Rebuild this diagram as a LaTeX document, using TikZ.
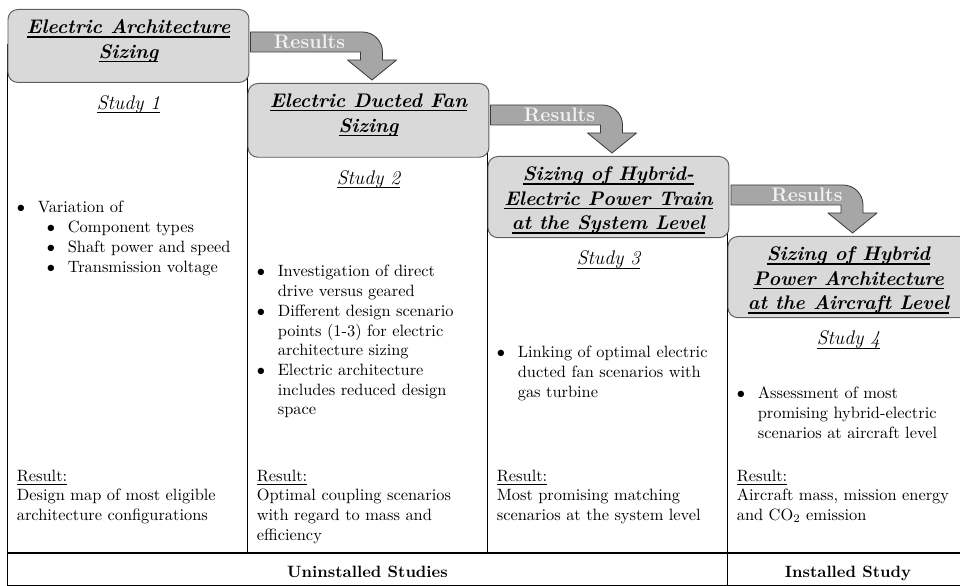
\documentclass[tikz,border=0pt]{standalone}
\usetikzlibrary{positioning}

\definecolor{boxfill}{HTML}{D9D9D9}
\definecolor{boxline}{HTML}{5F5F5F}
\definecolor{arrowfill}{HTML}{A6A6A6}
\definecolor{arrowline}{HTML}{3A3A3A}
\definecolor{restextcol}{HTML}{F2F2F2}

% bullets of fixed width, first and second level
\newcommand{\itembullet}{$\bullet$}
\newcommand{\subbullet}[1]{\hspace{5.5pt}$\bullet$\hspace{7.8pt}#1}
% underline at a fixed depth below the baseline (#1 = rule thickness)
\newcommand{\ulbar}[2]{\leavevmode\setbox0=\hbox{#2}\rlap{\rule[-2.3pt]{\wd0}{#1}}\box0}

\tikzset{
	% bent "Results" arrow, origin = top left corner of the bar
	pics/results/.style={code={
		\draw[resarrow] (0,0) -- (0,20) -- (110,20) -- (110,28) -- (97,28) -- (121.5,48) -- (146,28) -- (132,28) -- (132,20) arc[start angle=0, end angle=-90, radius=20] -- cycle;
		\node[restext] (-text) at (#1,17) {Results};
	}}
}

\begin{document}
\begin{tikzpicture}[x=0.61pt,y=-0.61pt,line join=round,
	frame/.style={draw=black,line width=0.8pt},
	titlebox/.style={draw=boxline,fill=boxfill,line width=0.6pt,rounded corners=6pt,minimum width=147pt,inner sep=0pt},
	titletext/.style={font=\large\bfseries\itshape,align=center,inner sep=0pt},
	study/.style={font=\large\itshape,inner sep=0pt},
	body/.style={inner sep=0pt,anchor=base west},
	band/.style={font=\bfseries,inner sep=0pt,anchor=base},
	resarrow/.style={draw=arrowline,fill=arrowfill,line width=0.5pt},
	restext/.style={font=\large\bfseries,text=restextcol,inner sep=0pt,anchor=base}]
	
	\useasboundingbox (0,0) rectangle (960,586);
	\clip (0,0) rectangle (960,586);
	
	% columns and bottom band
	\draw[frame] (7.5,45) rectangle (247.5,553);
	\draw[frame] (247.5,120) rectangle (487.5,553);
	\draw[frame] (487.5,196) rectangle (727.5,553);
	\draw[frame] (727.5,276) rectangle (980,553);
	\draw[frame] (7.5,553) rectangle (980,586);
	\draw[frame] (727.5,553) -- (727.5,586);
	
	\node[band] (uninst) at (367.5,577) {Uninstalled Studies};
	\node[band] (inst) at (848,577) {Installed Study};
	
	% title boxes
	\node[titlebox,minimum height=44.5pt,anchor=north west] (box1) at (7.5,9) {};
	\node[titlebox,minimum height=45pt,anchor=north west] (box2) at (247.5,83) {};
	\node[titlebox,minimum height=49.5pt,anchor=north west] (box3) at (487.5,156) {};
	\node[titlebox,minimum height=49.5pt,anchor=north west] (box4) at (727.5,236) {};
	
	\node[titletext,below=6.5pt of box1.north] (title1) {\ulbar{0.9pt}{Electric Architecture}\\[1pt]\ulbar{0.9pt}{Sizing}};
	\node[titletext,below=6.5pt of box2.north] (title2) {\ulbar{0.9pt}{Electric Ducted Fan}\\[1pt]\ulbar{0.9pt}{Sizing}};
	\node[titletext,below=6.5pt of box3.north] (title3) {\ulbar{0.9pt}{Sizing of Hybrid-}\\[1pt]\ulbar{0.9pt}{Electric Power Train}\\[1pt]\ulbar{0.9pt}{at the System Level}};
	\node[titletext,below=6.5pt of box4.north] (title4) {\ulbar{0.9pt}{Sizing of Hybrid}\\[1pt]\ulbar{0.9pt}{Power Architecture}\\[1pt]\ulbar{0.9pt}{at the Aircraft Level}};
	
	\node[study,below=7.5pt of box1] (study1) {\ulbar{0.45pt}{Study 1}};
	\node[study,below=7.5pt of box2] (study2) {\ulbar{0.45pt}{Study 2}};
	\node[study,below=7.5pt of box3] (study3) {\ulbar{0.45pt}{Study 3}};
	\node[study,below=7.5pt of box4] (study4) {\ulbar{0.45pt}{Study 4}};
	
	% results arrows
	\pic (arr1) at (250.5,32) {results=59};
	\pic (arr2) at (490.5,105) {results=69};
	\pic (arr3) at (731,185) {results=76};
	
	% bullet lists
	\node[body] (items1) at (16.5,213) {\begin{tabular}[t]{@{}l@{\hspace{7.8pt}}l@{}}
		\itembullet & Variation of\\
		& \subbullet{Component types}\\
		& \subbullet{Shaft power and speed}\\
		& \subbullet{Transmission voltage}
	\end{tabular}};
	\node[body] (items2) at (256.5,277) {\begin{tabular}[t]{@{}l@{\hspace{7.8pt}}l@{}}
		\itembullet & Investigation of direct\\
		& drive versus geared\\
		\itembullet & Different design scenario\\
		& points (1-3) for electric\\
		& architecture sizing\\
		\itembullet & Electric architecture\\
		& includes reduced design\\
		& space
	\end{tabular}};
	\node[body] (items3) at (496.5,358) {\begin{tabular}[t]{@{}l@{\hspace{7.8pt}}l@{}}
		\itembullet & Linking of optimal electric\\
		& ducted fan scenarios with\\
		& gas turbine
	\end{tabular}};
	\node[body] (items4) at (736.5,399) {\begin{tabular}[t]{@{}l@{\hspace{7.8pt}}l@{}}
		\itembullet & Assessment of most\\
		& promising hybrid-electric\\
		& scenarios at aircraft level
	\end{tabular}};
	
	% results of each study
	\node[body] (res1) at (16.5,481) {\begin{tabular}[t]{@{}l@{}}
		\ulbar{0.4pt}{Result:}\\
		Design map of most eligible\\
		architecture configurations
	\end{tabular}};
	\node[body] (res2) at (256.5,481) {\begin{tabular}[t]{@{}l@{}}
		\ulbar{0.4pt}{Result:}\\
		Optimal coupling scenarios\\
		with regard to mass and\\
		efficiency
	\end{tabular}};
	\node[body] (res3) at (496.5,481) {\begin{tabular}[t]{@{}l@{}}
		\ulbar{0.4pt}{Result:}\\
		Most promising matching\\
		scenarios at the system level
	\end{tabular}};
	\node[body] (res4) at (736.5,481) {\begin{tabular}[t]{@{}l@{}}
		\ulbar{0.4pt}{Result:}\\
		Aircraft mass, mission energy\\
		and CO$_2$ emission
	\end{tabular}};
\end{tikzpicture}
\end{document}
